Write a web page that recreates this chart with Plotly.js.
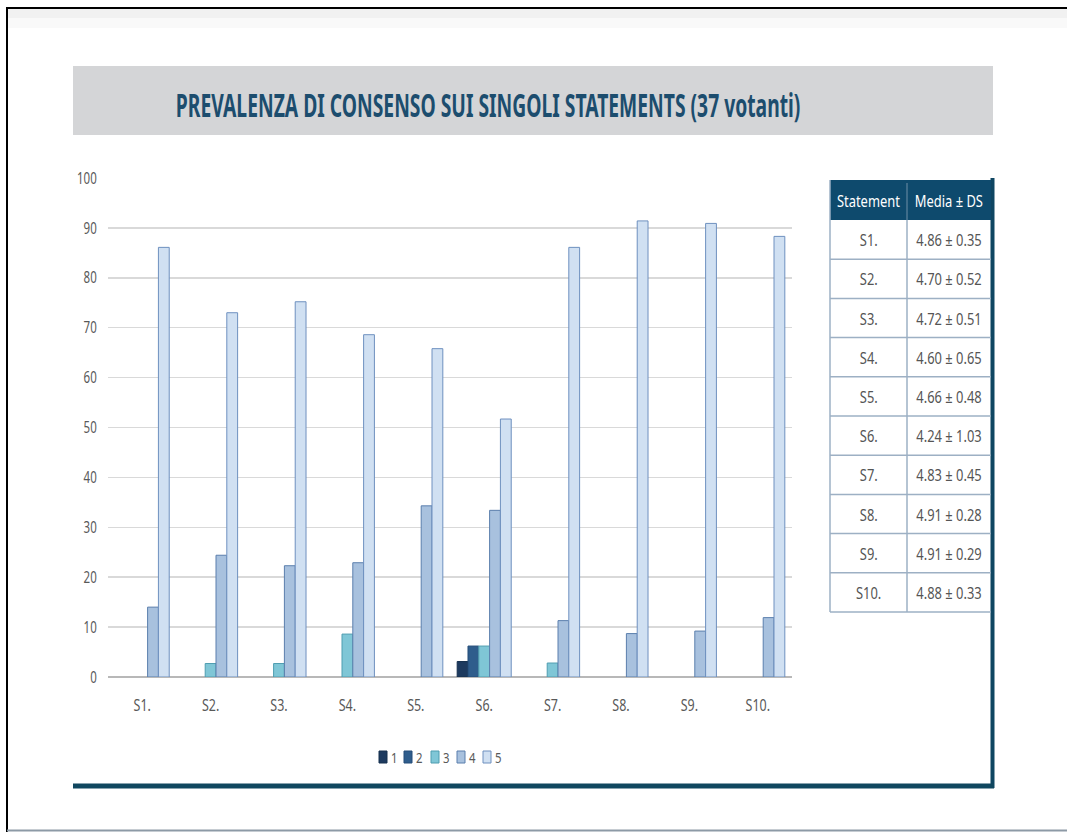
<!DOCTYPE html>
<html>
<head>
<meta charset="utf-8">
<script src="https://cdn.plot.ly/plotly-3.0.1.min.js"></script>
<style>
  html, body { margin: 0; padding: 0; background: #ffffff; }
  #chart { width: 1067px; height: 832px; }
</style>
</head>
<body>
<div id="chart"></div>
<script>
// Statements and the share (%) of voters giving each score 1..5
const statements = ['S1.', 'S2.', 'S3.', 'S4.', 'S5.', 'S6.', 'S7.', 'S8.', 'S9.', 'S10.'];
const score1 = [0, 0, 0, 0, 0, 3.1, 0, 0, 0, 0];
const score2 = [0, 0, 0, 0, 0, 6.2, 0, 0, 0, 0];
const score3 = [0, 2.7, 2.7, 8.6, 0, 6.2, 2.8, 0, 0, 0];
const score4 = [14.0, 24.4, 22.3, 22.9, 34.3, 33.4, 11.3, 8.7, 9.2, 11.9];
const score5 = [86.1, 73.0, 75.2, 68.6, 65.8, 51.7, 86.1, 91.4, 90.9, 88.3];
const scoreLabels = ['1', '2', '3', '4', '5'];
const meanSd = ['4.86 ± 0.35', '4.70 ± 0.52', '4.72 ± 0.51', '4.60 ± 0.65', '4.66 ± 0.48',
                '4.24 ± 1.03', '4.83 ± 0.45', '4.91 ± 0.28', '4.91 ± 0.29', '4.88 ± 0.33'];
const tableHeader = ['Statement', 'Media ± DS'];
const chartTitle = 'PREVALENZA DI CONSENSO SUI SINGOLI STATEMENTS (37 votanti)';

const W = 1067, H = 832;
const fx = p => p / W;          // page pixel -> paper x
const fy = p => 1 - p / H;      // page pixel -> paper y

const FONT = '"Noto Sans", "Open Sans", Roboto, sans-serif';

const fills = ['#1d3a5f', '#2f5d8c', '#7fc6d6', '#a8c1de', '#d0e0f2'];
const edges = ['#16304f', '#244d78', '#4f9db0', '#5b7fad', '#6e90bf'];
const series = [score1, score2, score3, score4, score5];

const barTraces = series.map((vals, i) => ({
  type: 'bar',
  name: scoreLabels[i],
  x: statements,
  y: vals,
  marker: {
    color: fills[i],
    // no outline on empty bars, so nothing is stroked along the baseline
    line: { color: edges[i], width: vals.map(v => (v > 0 ? 1 : 0)) }
  },
  showlegend: false,
  hoverinfo: 'x+y+name'
}));

// ---- summary table at the right (grid as shapes, text as annotations)
const tbl = { left: 830, mid: 907, right: 991, top: 180, headH: 40, rowH: 39.2 };
const tblBottom = tbl.top + tbl.headH + tbl.rowH * statements.length;
const tableShapes = [
  { type: 'rect', xref: 'paper', yref: 'paper',
    x0: fx(tbl.left), x1: fx(tbl.right), y0: fy(tbl.top + tbl.headH), y1: fy(tbl.top),
    fillcolor: '#0e4a6d', line: { width: 0 } },
  { type: 'line', xref: 'paper', yref: 'paper',
    x0: fx(tbl.mid), x1: fx(tbl.mid), y0: fy(tbl.top + 3), y1: fy(tbl.top + tbl.headH),
    line: { color: '#6f8fa8', width: 1 } },
  { type: 'line', xref: 'paper', yref: 'paper',
    x0: fx(tbl.mid), x1: fx(tbl.mid), y0: fy(tbl.top + tbl.headH), y1: fy(tblBottom),
    line: { color: '#9db0c4', width: 1.5 } },
  { type: 'line', xref: 'paper', yref: 'paper',
    x0: fx(tbl.left), x1: fx(tbl.left), y0: fy(tbl.top), y1: fy(tblBottom),
    line: { color: '#9db0c4', width: 1.5 } }
];
const tableAnn = [];
statements.forEach((s, r) => {
  const yb = tbl.top + tbl.headH + tbl.rowH * (r + 1);
  tableShapes.push({ type: 'line', xref: 'paper', yref: 'paper',
    x0: fx(tbl.left), x1: fx(tbl.right), y0: fy(yb), y1: fy(yb),
    line: { color: '#9db0c4', width: 1.5 } });
  const yc = yb - tbl.rowH / 2;
  tableAnn.push({ xref: 'paper', yref: 'paper', x: fx((tbl.left + tbl.mid) / 2), y: fy(yc),
    xanchor: 'center', yanchor: 'middle', showarrow: false, text: s,
    font: { family: FONT, size: 17, color: '#555555' } });
  tableAnn.push({ xref: 'paper', yref: 'paper', x: fx((tbl.mid + tbl.right) / 2), y: fy(yc),
    xanchor: 'center', yanchor: 'middle', showarrow: false, text: meanSd[r],
    font: { family: FONT, size: 17, color: '#555555' } });
});
tableHeader.forEach((h, c) => {
  const xc = c === 0 ? (tbl.left + tbl.mid) / 2 : (tbl.mid + tbl.right) / 2;
  tableAnn.push({ xref: 'paper', yref: 'paper', x: fx(xc), y: fy(tbl.top + tbl.headH / 2),
    xanchor: 'center', yanchor: 'middle', showarrow: false, text: h,
    font: { family: FONT, size: 17, color: '#ffffff' } });
});

// ---- legend: small swatches with labels under the plot
const legendX = [379, 404, 431, 457, 483];
const legendShapes = scoreLabels.map((s, i) => ({
  type: 'rect', xref: 'paper', yref: 'paper',
  x0: fx(legendX[i]), x1: fx(legendX[i] + 8),
  y0: fy(763), y1: fy(751),
  fillcolor: fills[i], line: { color: edges[i], width: 1 }
}));
const legendAnn = scoreLabels.map((s, i) => ({
  xref: 'paper', yref: 'paper',
  x: fx(legendX[i] + 9), y: fy(757),
  xanchor: 'left', yanchor: 'middle',
  text: s, showarrow: false,
  font: { family: FONT, size: 15, color: '#595959' }
}));

const frameShapes = [
  // band behind the title
  { type: 'rect', xref: 'paper', yref: 'paper', x0: fx(73), x1: fx(993), y0: fy(135), y1: fy(66),
    fillcolor: '#d4d5d7', line: { width: 0 }, layer: 'below' },
  // soft shadow under the top page edge
  { type: 'rect', xref: 'paper', yref: 'paper', x0: fx(8), x1: fx(1067), y0: fy(18), y1: fy(9),
    fillcolor: '#f1f1f1', line: { width: 0 }, layer: 'below' },
  { type: 'rect', xref: 'paper', yref: 'paper', x0: fx(8), x1: fx(1067), y0: fy(28), y1: fy(18),
    fillcolor: '#f9f9f9', line: { width: 0 }, layer: 'below' },
  // page edges
  { type: 'line', xref: 'paper', yref: 'paper', x0: fx(6), x1: fx(1067), y0: fy(8), y1: fy(8),
    line: { color: '#000000', width: 2 } },
  { type: 'line', xref: 'paper', yref: 'paper', x0: fx(7), x1: fx(7), y0: fy(7), y1: fy(832),
    line: { color: '#000000', width: 2 } },
  { type: 'line', xref: 'paper', yref: 'paper', x0: fx(7), x1: fx(1067), y0: fy(830.5), y1: fy(830.5),
    line: { color: '#8d9aa6', width: 2 } },
  // card borders
  { type: 'line', xref: 'paper', yref: 'paper', x0: fx(992.5), x1: fx(992.5), y0: fy(178), y1: fy(788),
    line: { color: '#0f4662', width: 4 } },
  { type: 'line', xref: 'paper', yref: 'paper', x0: fx(73), x1: fx(994), y0: fy(786), y1: fy(786),
    line: { color: '#10475f', width: 5 } }
];

const layout = {
  width: W, height: H,
  margin: { l: 0, r: 0, t: 0, b: 0 },
  paper_bgcolor: '#ffffff',
  plot_bgcolor: '#ffffff',
  barmode: 'group',
  bargap: 0.21,
  bargroupgap: 0,
  showlegend: false,
  xaxis: {
    domain: [fx(108), fx(792)],
    type: 'category',
    showgrid: false,
    zeroline: false,
    showline: false,
    ticks: 'outside', ticklen: 14, tickcolor: 'rgba(0,0,0,0)',
    tickfont: { family: FONT, size: 16, color: '#595959' }
  },
  yaxis: {
    domain: [fy(677), fy(178)],
    range: [0, 100],
    dtick: 10,
    showgrid: true,
    gridcolor: '#d9d9d9',
    gridwidth: 1.5,
    zeroline: true,
    zerolinecolor: '#b8b8b8',
    zerolinewidth: 1.5,
    showline: false,
    ticks: 'outside', ticklen: 7, tickcolor: 'rgba(0,0,0,0)',
    tickfont: { family: FONT, size: 16, color: '#595959' }
  },
  shapes: frameShapes.concat(legendShapes, tableShapes),
  annotations: [
    {
      xref: 'paper', yref: 'paper',
      x: fx(488), y: fy(104),
      xanchor: 'center', yanchor: 'middle',
      text: '<b>' + chartTitle + '</b>',
      showarrow: false,
      font: { family: FONT, size: 32, color: '#1c4d6e' }
    }
  ].concat(legendAnn, tableAnn)
};

// Narrow a text horizontally about its own anchor point
function condense(t, k) {
  const x = parseFloat(t.getAttribute('x')) || 0;
  const prev = t.getAttribute('transform') || '';
  t.setAttribute('transform', prev + ' translate(' + x + ',0) scale(' + k + ',1) translate(' + (-x) + ',0)');
}

Plotly.newPlot('chart', barTraces, layout, { displayModeBar: false, staticPlot: true }).then(gd => {
  gd.querySelectorAll('.xtick text').forEach(t => condense(t, 0.78));
  gd.querySelectorAll('.ytick text').forEach(t => condense(t, 0.72));
  gd.querySelectorAll('text.annotation-text').forEach(t => {
    if (t.textContent === chartTitle) {
      condense(t, 625 / t.getBBox().width);
    } else {
      condense(t, 0.76);
    }
  });
});
</script>
</body>
</html>
